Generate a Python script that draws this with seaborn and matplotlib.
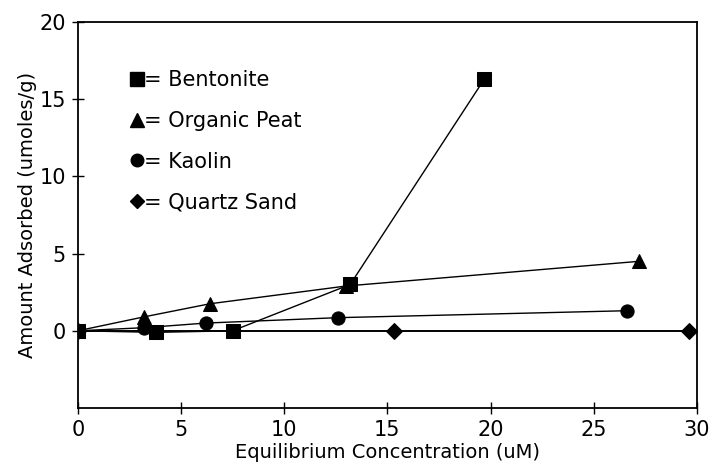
import numpy as np
import pandas as pd
import seaborn as sns
import matplotlib
matplotlib.use("Agg")
import matplotlib.pyplot as plt
from matplotlib.lines import Line2D

# Data
bentonite_x = [0.0, 3.8, 7.5, 13.2, 19.7]
bentonite_y = [0.0, -0.1, 0.0, 3.0, 16.3]
peat_x = [0.0, 3.2, 6.4, 13.0, 27.2]
peat_y = [0.0, 0.9, 1.75, 2.9, 4.5]
kaolin_x = [0.0, 3.2, 6.2, 12.6, 26.6]
kaolin_y = [0.0, 0.2, 0.5, 0.85, 1.3]
quartz_x = [0.0, 15.3, 29.6]
quartz_y = [0.0, 0.0, 0.0]

series_names = ["Bentonite", "Organic Peat", "Kaolin", "Quartz Sand"]
series_markers = ["s", "^", "o", "D"]
x_ticks = [0, 5, 10, 15, 20, 25, 30]
y_ticks = [0, 5, 10, 15, 20]

sns.set_theme(style="white")
plt.rcParams["font.family"] = ["DejaVu Sans"]
plt.rcParams["text.color"] = "black"
plt.rcParams["axes.labelcolor"] = "black"

frames = []
for name, xs, ys in zip(series_names,
                        [bentonite_x, peat_x, kaolin_x, quartz_x],
                        [bentonite_y, peat_y, kaolin_y, quartz_y]):
    frames.append(pd.DataFrame({"x": xs, "y": ys, "series": name}))
df = pd.concat(frames, ignore_index=True)

fig = plt.figure(figsize=(7.14, 4.72), dpi=100)
ax = fig.add_axes([0.109, 0.1356, 0.867, 0.8178])

msize = {"s": 10, "^": 10, "o": 9.5, "D": 8}
lw = {"Quartz Sand": 1.4, "Kaolin": 1.0, "Organic Peat": 1.0, "Bentonite": 1.0}
# draw quartz first so others sit on top
order = ["Quartz Sand", "Kaolin", "Organic Peat", "Bentonite"]
for name in order:
    mk = series_markers[series_names.index(name)]
    sub = df[df["series"] == name]
    sns.lineplot(data=sub, x="x", y="y", ax=ax, sort=False, color="black",
                 linewidth=lw[name], marker=mk, markersize=msize[mk],
                 markeredgecolor="black", markerfacecolor="black",
                 legend=False, estimator=None)

ax.set_xlim(0, 30)
ax.set_ylim(-5, 20)
ax.set_xticks(x_ticks)
ax.set_yticks(y_ticks)
ax.tick_params(axis="both", which="major", direction="inout", length=9,
               width=1.0, color="black", labelsize=15, labelcolor="black",
               bottom=True, left=True, pad=4)
for sp in ax.spines.values():
    sp.set_color("black")
    sp.set_linewidth(1.3)

ax.set_xlabel("Equilibrium Concentration (uM)", fontsize=14, color="black",
              labelpad=2)
ax.set_ylabel("Amount Adsorbed (umoles/g)", fontsize=14, color="black",
              labelpad=2)

handles = [Line2D([], [], color="black", linestyle="none", marker=m,
                  markersize=msize[m] * 0.95) for m in series_markers]
labels = ["= " + n for n in series_names]
leg = ax.legend(handles, labels, loc="upper left",
                bbox_to_anchor=(0.074, 0.897), frameon=False, fontsize=15,
                handlelength=0.5, handletextpad=0.1, labelspacing=1.0,
                borderaxespad=0)
for t in leg.get_texts():
    t.set_color("black")

fig.savefig("out.png", dpi=100)
